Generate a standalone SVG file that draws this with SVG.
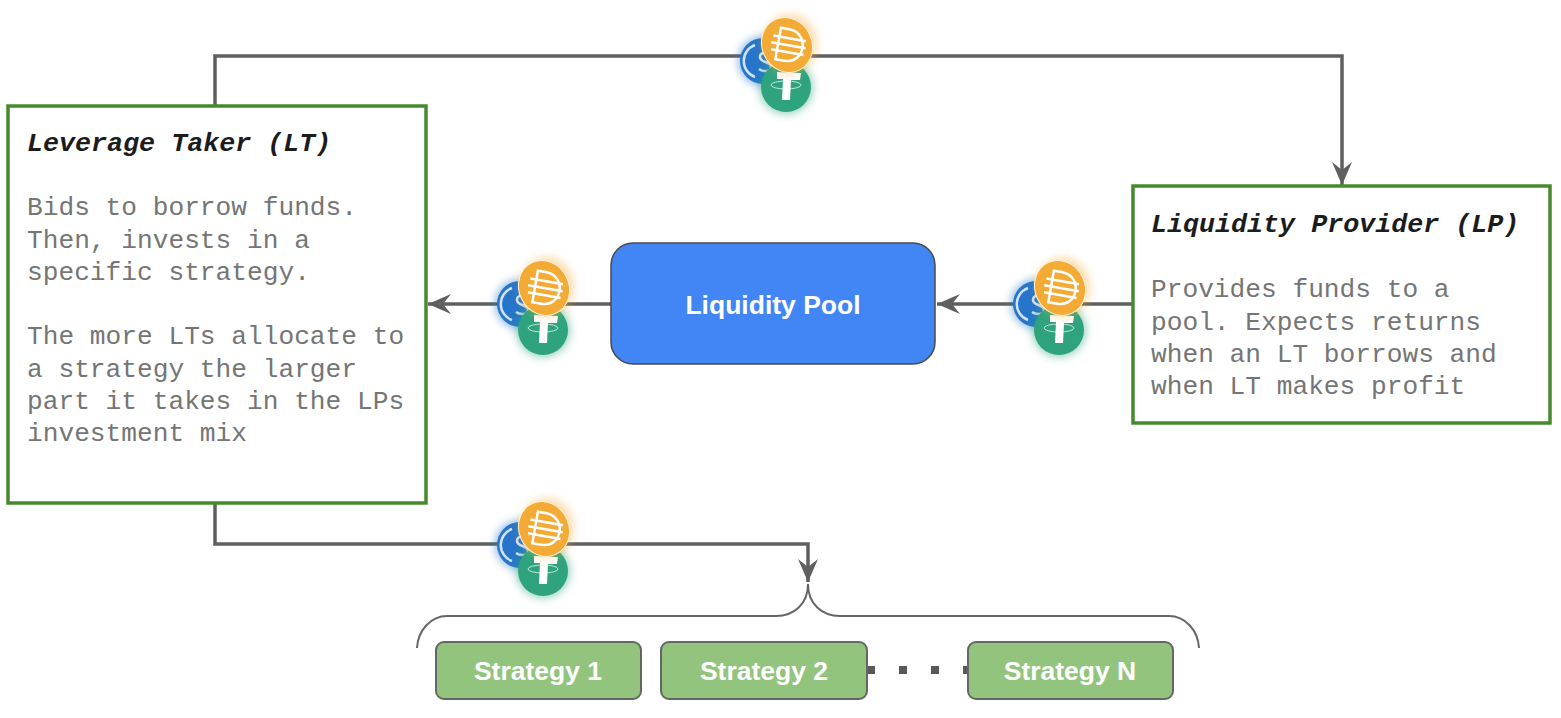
<svg xmlns="http://www.w3.org/2000/svg" width="1561" height="718" viewBox="0 0 1561 718">
  <style>
    .card { fill: #ffffff; stroke: #478a2c; stroke-width: 3.5; }
    .mono { font-family: "Liberation Mono", "Courier New", monospace; font-size: 26.2px; fill: #757575; }
    .head { font-family: "Liberation Mono", "Courier New", monospace; font-size: 26.7px; font-weight: bold; font-style: italic; fill: #1c1c1c; }
    .pool { fill: #4285f4; stroke: #4a4a4a; stroke-width: 1.5; }
    .strategy { fill: #93c47d; stroke: #666666; stroke-width: 2; }
    .label { font-family: "Liberation Sans", Arial, sans-serif; font-size: 26.5px; font-weight: bold; fill: #ffffff; text-anchor: middle; }
    .wire { fill: none; stroke: #5f5f5f; stroke-width: 3.5; }
    .thin { fill: none; stroke: #666666; stroke-width: 2; }
    .dots { fill: none; stroke: #595959; stroke-width: 8; stroke-dasharray: 8 24; }
  </style>
  <defs>
    <marker id="arrow" markerUnits="userSpaceOnUse" markerWidth="24" markerHeight="22" refX="23" refY="11" orient="auto">
      <path d="M0,1 L23,11 L0,21 L8,11 Z" fill="#5f5f5f"/>
    </marker>
    <filter id="glow" x="-40%" y="-40%" width="180%" height="180%">
      <feGaussianBlur stdDeviation="4"/>
    </filter>
    <!-- Three-token cluster: USDC behind, then USDT, then DAI on top -->
    <g id="coins">
      <circle cx="763" cy="61" r="25" fill="#2775ca" opacity=".5" filter="url(#glow)"/>
      <circle cx="763" cy="61" r="23" fill="#2775ca"/>
      <path d="M755,45 A17,17 0 0 0 755,77" fill="none" stroke="#cfe2f7" stroke-width="2.5"/>
      <path d="M771,55 C767,51 760,52 760,57 C760,63 771,61 771,67 C771,72 763,72 759,69" fill="none" stroke="#cfe2f7" stroke-width="2.5"/>
      <circle cx="786" cy="87" r="27" fill="#26a17b" opacity=".5" filter="url(#glow)"/>
      <circle cx="786" cy="87" r="25" fill="#2fa37e"/>
      <path d="M777,72 L801,73 L800,80 L791,80 L790,100 L782,100 L783,79 L777,79 Z" fill="#ffffff"/>
      <ellipse cx="786" cy="85" rx="15" ry="4" fill="none" stroke="#ffffff" stroke-width="1" opacity=".7"/>
      <ellipse cx="790" cy="44" rx="27" ry="30" fill="#f5ac37" opacity=".4" filter="url(#glow)"/>
      <ellipse cx="787" cy="45" rx="25" ry="28" transform="rotate(-25 787 45)" fill="#f4ab35" stroke="#fff3dc" stroke-width="1"/>
      <path d="M778,29 H787 C808,30 808,61 787,61 H778 Z" fill="none" stroke="#ffffff" stroke-width="2.5" transform="rotate(10 787 45)"/>
      <path d="M772,38 H805 M771,45 H806 M772,52 H805" fill="none" stroke="#ffffff" stroke-width="2.5" transform="rotate(10 787 45)"/>
    </g>
  </defs>

  <rect width="1561" height="718" fill="#ffffff"/>

  <g id="connectors">
    <path class="wire" d="M215,106 V56 H1342 V185" marker-end="url(#arrow)"/>
    <path class="wire" d="M1133,304 H937" marker-end="url(#arrow)"/>
    <path class="wire" d="M611,304 H428" marker-end="url(#arrow)"/>
    <path class="wire" d="M215,503 V544 H808 V582" marker-end="url(#arrow)"/>
    <path class="dots" d="M867,670 H968"/>
  </g>

  <g id="brace">
    <path class="thin" d="M417,648 C418,630 431,616 447,616 H776 C794,616 808,604 808,584 C808,604 822,616 840,616 H1169 C1185,616 1198,630 1199,648"/>
  </g>

  <g id="coins-top"><use href="#coins"/></g>
  <g id="coins-left"><use href="#coins" transform="translate(-243 243)"/></g>
  <g id="coins-right"><use href="#coins" transform="translate(273 243)"/></g>
  <g id="coins-bottom"><use href="#coins" transform="translate(-243 484)"/></g>

  <g id="leverage-taker">
    <rect class="card" x="8" y="106" width="418" height="397"/>
    <text class="head" x="27" y="151">Leverage Taker (LT)</text>
    <text class="mono" x="27" y="215">Bids to borrow funds.</text>
    <text class="mono" x="27" y="248">Then, invests in a</text>
    <text class="mono" x="27" y="280">specific strategy.</text>
    <text class="mono" x="27" y="344">The more LTs allocate to</text>
    <text class="mono" x="27" y="377">a strategy the larger</text>
    <text class="mono" x="27" y="409">part it takes in the LPs</text>
    <text class="mono" x="27" y="441">investment mix</text>
  </g>

  <g id="liquidity-provider">
    <rect class="card" x="1133" y="186" width="417" height="237"/>
    <text class="head" x="1151" y="232">Liquidity Provider (LP)</text>
    <text class="mono" x="1151" y="297">Provides funds to a</text>
    <text class="mono" x="1151" y="330">pool. Expects returns</text>
    <text class="mono" x="1151" y="362">when an LT borrows and</text>
    <text class="mono" x="1151" y="394">when LT makes profit</text>
  </g>

  <g id="liquidity-pool">
    <rect class="pool" x="611" y="243" width="324" height="121" rx="22"/>
    <text class="label" x="773" y="314">Liquidity Pool</text>
  </g>

  <g id="strategy-1">
    <rect class="strategy" x="436" y="642" width="205" height="57" rx="8"/>
    <text class="label" x="538" y="680">Strategy 1</text>
  </g>
  <g id="strategy-2">
    <rect class="strategy" x="661" y="642" width="206" height="57" rx="8"/>
    <text class="label" x="764" y="680">Strategy 2</text>
  </g>
  <g id="strategy-n">
    <rect class="strategy" x="968" y="642" width="205" height="57" rx="8"/>
    <text class="label" x="1070" y="680">Strategy N</text>
  </g>
</svg>
